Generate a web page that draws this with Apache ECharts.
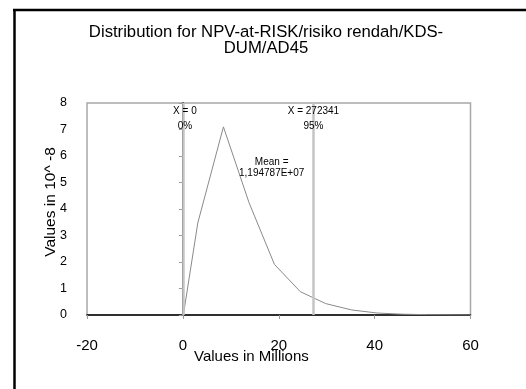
<!DOCTYPE html>
<html>
<head>
<meta charset="utf-8">
<script src="https://cdn.jsdelivr.net/npm/echarts@6/dist/echarts.min.js"></script>
<style>
html,body{margin:0;padding:0;background:#fff;}
#c{width:526px;height:389px;}
</style>
</head>
<body>
<div id="c"></div>
<script>
// Data (x in millions, y in 10^-8)
const xValues = [0.1, 3.12, 8.46, 13.8, 19.1, 24.5, 29.8, 35.2, 40.5, 45.8, 51.2, 56.5, 60];
const yValues = [0, 3.48, 7.1, 4.24, 1.91, 0.88, 0.43, 0.19, 0.075, 0.03, 0.012, 0.005, 0];
const markerX = [0, 27.2341];
const markerLabels = ['X = 0\n0%', 'X = 272341\n95%'];
const meanValue = 11.94787;
const meanLabel = 'Mean =\n1,194787E+07';
const xTicks = [-20, 0, 20, 40, 60];
const yTicks = [0, 1, 2, 3, 4, 5, 6, 7, 8];
const titleText = 'Distribution for NPV-at-RISK/risiko rendah/KDS-\nDUM/AD45';
const xName = 'Values in Millions';
const yName = 'Values in 10^ -8';

const FONT = 'Liberation Sans, Arial, sans-serif';
const chart = echarts.init(document.getElementById('c'), null, {renderer: 'canvas'});

const lineData = xValues.map((x, i) => [x, yValues[i]]);

chart.setOption({
  backgroundColor: '#fff',
  animation: false,
  title: {
    text: titleText,
    left: 261, top: 19, textAlign: 'center',
    textStyle: {fontFamily: FONT, fontSize: 16.7, fontWeight: 'normal', color: '#000', lineHeight: 16.5}
  },
  grid: {
    left: 87, right: 55.5, top: 103, bottom: 74,
    show: true, borderColor: '#a8a8a8', borderWidth: 1.5, backgroundColor: '#fff'
  },
  xAxis: {
    type: 'value', min: xTicks[0], max: xTicks[xTicks.length - 1], interval: 20,
    axisLine: {show: true, onZero: false, lineStyle: {color: '#000', width: 1.5}},
    axisTick: {show: true, length: 4, lineStyle: {color: '#999'}},
    splitLine: {show: false},
    axisLabel: {fontFamily: FONT, fontSize: 15, color: '#000', margin: 23}
  },
  yAxis: {
    type: 'value', min: yTicks[0], max: yTicks[yTicks.length - 1], interval: 1,
    axisLine: {show: true, lineStyle: {color: '#000', width: 1.5}},
    axisTick: {show: true, length: 4, lineStyle: {color: '#999'}},
    splitLine: {show: false},
    axisLabel: {fontFamily: FONT, fontSize: 12.5, color: '#000', margin: 20}
  },
  graphic: [
    {type: 'line', shape: {x1: 13, y1: 10, x2: 526, y2: 10}, style: {stroke: '#000', lineWidth: 2.5}},
    {type: 'line', shape: {x1: 14.5, y1: 9, x2: 14.5, y2: 389}, style: {stroke: '#000', lineWidth: 2.5}},
    {type: 'text', left: 194, top: 349, style: {text: xName, font: '15px ' + FONT, fill: '#000'}},
    {type: 'text', x: 51, y: 202, rotation: Math.PI / 2,
     style: {text: yName, font: '15.5px ' + FONT, fill: '#000', textAlign: 'center', textVerticalAlign: 'middle'}}
  ],
  series: [
    {
      type: 'line', data: lineData, symbol: 'none', z: 3,
      lineStyle: {color: '#8a8a8a', width: 1},
      markLine: {
        silent: true, symbol: 'none', label: {show: false},
        lineStyle: {color: '#c4c4c4', width: 2.5, type: 'solid'},
        data: markerX.map(x => ({xAxis: x}))
      },
      markPoint: {
        symbol: 'circle', symbolSize: 0,
        data: [
          {coord: [markerX[0], 7.39], label: {show: true, position: 'inside', offset: [2, 0], formatter: markerLabels[0],
            fontFamily: FONT, fontSize: 10, color: '#000', lineHeight: 15}},
          {coord: [markerX[1], 7.39], label: {show: true, position: 'inside', offset: [0, 0], formatter: markerLabels[1],
            fontFamily: FONT, fontSize: 10, color: '#000', lineHeight: 15}},
          {coord: [meanValue, 5.55], label: {show: true, position: 'inside', offset: [31.5, 0], formatter: meanLabel,
            fontFamily: FONT, fontSize: 10, color: '#000', lineHeight: 11}}
        ]
      }
    }
  ]
});
</script>
</body>
</html>
